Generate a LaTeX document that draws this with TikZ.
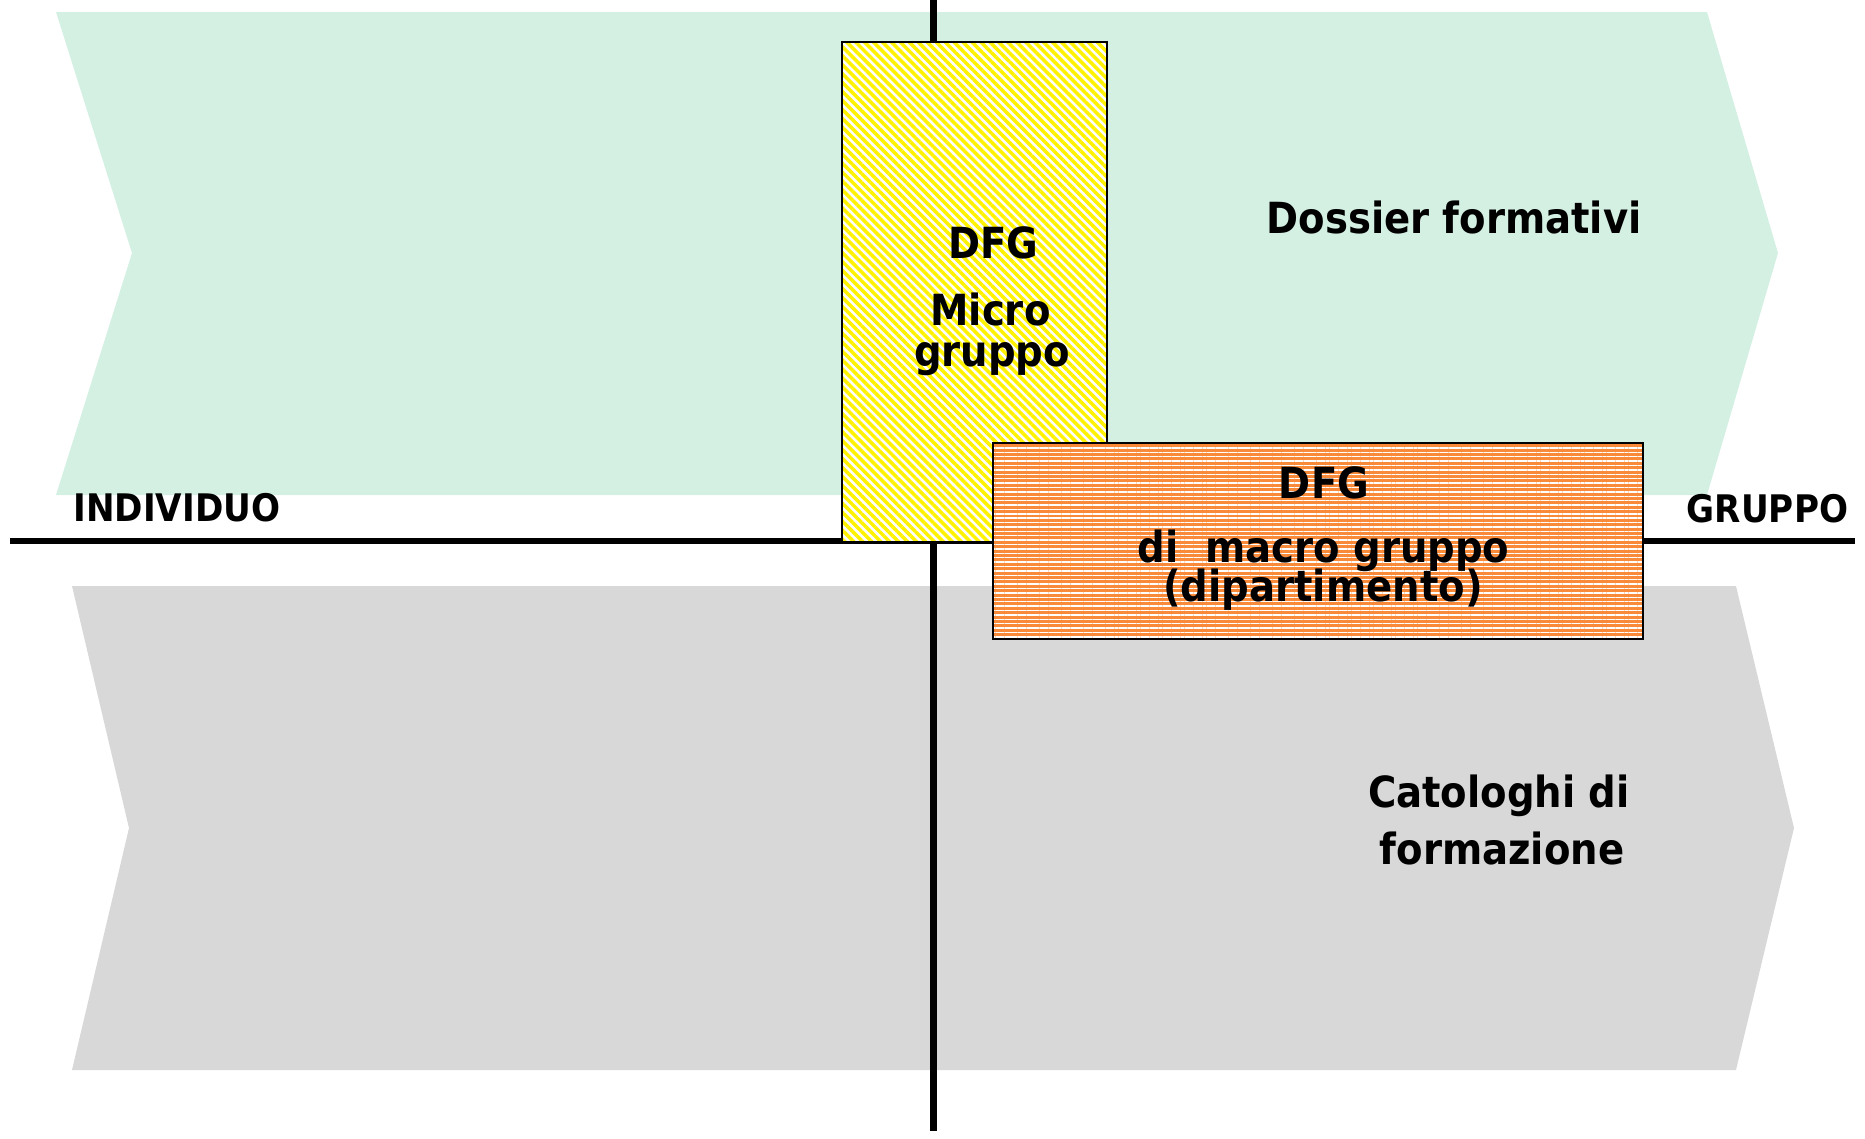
\documentclass[tikz,border=0pt]{standalone}
\usepackage{fontspec}
\setmainfont{DejaVu Sans Condensed}
\usetikzlibrary{patterns.meta}
\definecolor{mint}{HTML}{D3F0E3}
\definecolor{band}{HTML}{D8D8D8}
\definecolor{ystripe}{HTML}{FFF200}
\definecolor{ostripe}{HTML}{F98A3A}
\begin{document}
\begin{tikzpicture}[x=0.01cm,y=-0.01cm,
  lbl/.style={inner sep=0pt, anchor=base, font=\bfseries\fontsize{12.2}{14}\selectfont},
  axislbl/.style={inner sep=0pt, anchor=base, font=\bfseries\fontsize{10.8}{13}\selectfont},
  axis/.style={line width=1.9pt, black},
  microbox/.style={draw=black, line width=0.6pt, preaction={fill=white},
    pattern={Lines[angle=-45, distance=1.8pt, line width=1pt]}, pattern color=ystripe},
  macrobox/.style={draw=black, line width=0.6pt, preaction={fill=ostripe},
    pattern={Lines[angle=0, distance=1.25pt, line width=0.4pt]}, pattern color=white}]
\useasboundingbox (0,0) rectangle (1865,1138);
% background bands
\fill[mint] (56,12) -- (1707,12) -- (1778,253) -- (1707,495) -- (56,495) -- (132,253) -- cycle;
\fill[band] (72,586) -- (1736,586) -- (1794,828) -- (1736,1070) -- (72,1070) -- (129,828) -- cycle;
% axes
\coordinate (hl) at (10,541);
\coordinate (hr) at (1855,541);
\coordinate (vt) at (933.5,0);
\coordinate (vb) at (933.5,1131);
\draw[axis] (hl) -- (hr);
\draw[axis] (vt) -- (vb);
% boxes
\node[microbox, minimum width=2.65cm, minimum height=5cm, inner sep=0pt] (micro) at (974.5,292) {};
\node[macrobox, minimum width=6.5cm, minimum height=1.96cm, inner sep=0pt] (macro) at (1318,541) {};
% texts
\node[lbl] (dossier) at (1454,233) {Dossier formativi};
\node[lbl] (dfg1) at (993.5,258) {DFG};
\node[lbl] (micro1) at (990.5,325) {Micro};
\node[lbl] (micro2) at (992,366) {gruppo};
\node[lbl] (dfg2) at (1324,498) {DFG};
\node[lbl] (macro1) at (1323.5,562) {di\ \ macro gruppo};
\node[lbl] (macro2) at (1323,601) {(dipartimento)};
\node[lbl] (cat1) at (1499,807) {Catologhi di};
\node[lbl] (cat2) at (1502,864) {formazione};
\node[axislbl] (indiv) at (177,521) {INDIVIDUO};
\node[axislbl] (grup) at (1767.5,522) {GRUPPO};
\end{tikzpicture}
\end{document}
